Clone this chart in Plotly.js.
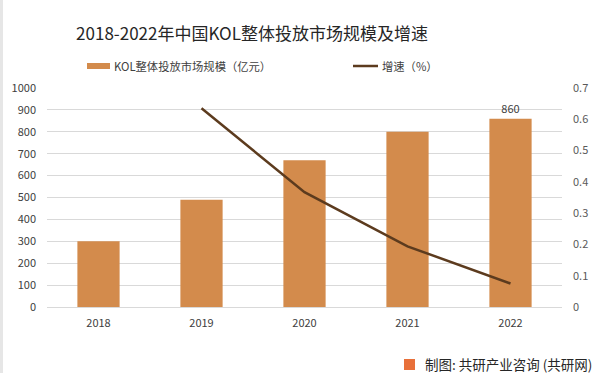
<!DOCTYPE html>
<html>
<head>
<meta charset="utf-8">
<script src="https://cdn.plot.ly/plotly-3.0.1.min.js"></script>
<style>html,body{margin:0;padding:0;background:#fff;}#chart{width:600px;height:373px;}</style>
</head>
<body>
<div id="chart"></div>
<script>
const years = ['2018', '2019', '2020', '2021', '2022'];
const marketSize = [300, 490, 670, 800, 860];
const growthYears = ['2019', '2020', '2021', '2022'];
const growthRate = [0.635, 0.367, 0.194, 0.075];
const barLabels = ['', '', '', '', '860'];
const leftTicks = [0, 100, 200, 300, 400, 500, 600, 700, 800, 900, 1000];
const rightTicks = [0, 0.1, 0.2, 0.3, 0.4, 0.5, 0.6, 0.7];
const barName = 'KOL整体投放市场规模（亿元）';
const lineName = '增速（%）';

const font = 'Noto Sans CJK SC, Noto Sans, sans-serif';
const barColor = '#D38B4C';
const lineColor = '#5C3B1E';

// plot area: x 47..562, y 88..307
const px = v => (v - 47) / 515;
const py = v => (307 - v) / 219;

const traces = [
  {
    type: 'bar', x: years, y: marketSize, name: barName,
    marker: {color: barColor}, width: 0.41,
    text: barLabels, textposition: 'outside', cliponaxis: false,
    textfont: {size: 11, color: '#404040', family: font}
  },
  {
    type: 'scatter', mode: 'lines', x: growthYears, y: growthRate, yaxis: 'y2',
    name: lineName, line: {color: lineColor, width: 2.5}
  }
];

const layout = {
  width: 600, height: 373,
  margin: {l: 47, r: 38, t: 88, b: 66},
  paper_bgcolor: '#fff', plot_bgcolor: '#fff',
  font: {family: font, color: '#404040', size: 11},
  title: {text: '2018-2022年中国KOL整体投放市场规模及增速', x: 0.42, xanchor: 'center', y: 0.91, yanchor: 'middle',
          font: {size: 17, color: '#262626', family: font}},
  showlegend: false,
  bargap: 0.59,
  xaxis: {type: 'category', showgrid: false, zeroline: false, showline: false, ticks: '',
          ticklabelstandoff: 8, tickfont: {size: 11, color: '#404040'}, fixedrange: true},
  yaxis: {range: [0, 1000], tickvals: leftTicks, showgrid: true, gridcolor: '#d9d9d9', gridwidth: 1,
          zeroline: true, zerolinecolor: '#d9d9d9', showline: false, ticks: '', ticklabelstandoff: 10,
          tickfont: {size: 11, color: '#404040'}},
  yaxis2: {range: [0, 0.7], tickvals: rightTicks, overlaying: 'y', side: 'right', showgrid: false,
           zeroline: false, showline: false, ticks: '', ticklabelstandoff: 10,
           tickfont: {size: 11, color: '#595959'}},
  shapes: [
    {type: 'rect', xref: 'paper', yref: 'paper', x0: px(0), x1: px(3), y0: py(373), y1: py(0), fillcolor: '#e6e6e6', line: {width: 0}},
    {type: 'rect', xref: 'paper', yref: 'paper', x0: px(87), x1: px(110), y0: py(69), y1: py(63), fillcolor: barColor, line: {width: 0}},
    {type: 'line', xref: 'paper', yref: 'paper', x0: px(353), x1: px(378), y0: py(66), y1: py(66), line: {color: lineColor, width: 2.5}},
    {type: 'rect', xref: 'paper', yref: 'paper', x0: px(404), x1: px(415), y0: py(370), y1: py(359), fillcolor: '#E8703A', line: {width: 0}}
  ],
  annotations: [
    {text: barName, xref: 'paper', yref: 'paper', x: px(112), xanchor: 'left', y: py(66), yanchor: 'middle',
     showarrow: false, font: {size: 11.3, color: '#404040'}},
    {text: lineName, xref: 'paper', yref: 'paper', x: px(380), xanchor: 'left', y: py(66), yanchor: 'middle',
     showarrow: false, font: {size: 11.3, color: '#404040'}},
    {text: '制图: 共研产业咨询 (共研网)', xref: 'paper', yref: 'paper', x: px(594), xanchor: 'right',
     y: py(364), yanchor: 'middle', showarrow: false, font: {size: 13.5, color: '#262626'}}
  ]
};

Plotly.newPlot('chart', traces, layout, {displayModeBar: false, staticPlot: true});
</script>
</body>
</html>
